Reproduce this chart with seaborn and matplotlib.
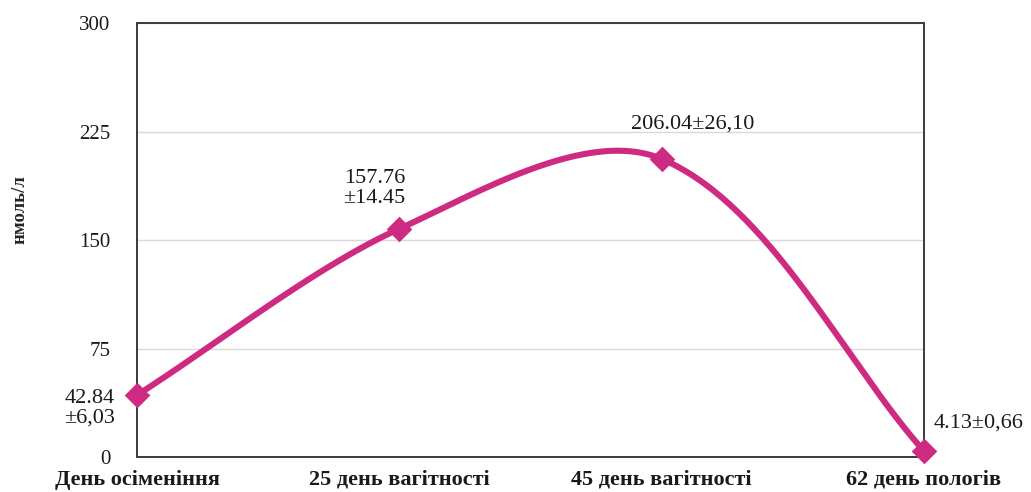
import numpy as np
import pandas as pd
import matplotlib
matplotlib.use("Agg")
import matplotlib.pyplot as plt
import seaborn as sns

# ---------------- data ----------------#
stages = ["День осіменіння", "25 день вагітності", "45 день вагітності", "62 день пологів"]
values = [42.84, 157.76, 206.04, 4.13]
labels = ["42.84\n±6,03", "157.76\n±14.45", "206.04±26,10", "4.13±0,66"]
yticks = [0, 75, 150, 225, 300]

color = "#CF2A82"

def smooth(x, y, sx=262., sy=434./300, k=0.3, n=60):
	# excel-like smoothed line: bezier controls along the neighbour chord,
	# scaled by each segment's own length (in screen units)
	P = np.c_[np.asarray(x, float)*sx, np.asarray(y, float)*sy]
	m = len(P)
	tang = []
	for i in range(m):
		a = P[max(i-1, 0)]; b = P[min(i+1, m-1)]
		d = b - a
		tang.append(d/np.hypot(*d))
	t = np.linspace(0, 1, n)[:, None]
	pts = []
	for i in range(m-1):
		L = np.hypot(*(P[i+1]-P[i]))
		c1 = P[i] + tang[i]*L*k
		c2 = P[i+1] - tang[i+1]*L*k
		pts.append((1-t)**3*P[i] + 3*(1-t)**2*t*c1 + 3*(1-t)*t**2*c2 + t**3*P[i+1])
	pts = np.vstack(pts)
	return pts[:, 0]/sx, pts[:, 1]/sy

idx = np.arange(len(stages))
cx, cy = smooth(idx, values)
df_curve = pd.DataFrame({"x": cx, "y": cy})
df_pts = pd.DataFrame({"x": idx, "y": values})

# ---------------- plot ----------------#
sns.set_theme(style="whitegrid")
plt.rcParams['font.family'] = ['Liberation Serif', 'DejaVu Serif']

fig = plt.figure(figsize=(10.31, 4.92), dpi=100)
ax = fig.add_axes([0.1329, 0.0711, 0.7633, 0.8821])

sns.lineplot(data=df_curve, x="x", y="y", ax=ax, color=color, linewidth=4.4,
	sort=False, estimator=None, clip_on=False)
sns.scatterplot(data=df_pts, x="x", y="y", ax=ax, color=color, marker="D", s=170,
	edgecolor=color, linewidth=0, clip_on=False, zorder=5)

ax.set_xlim(0, 3)
ax.set_ylim(0, 300)
ax.set_yticks(yticks)
ax.set_xticks(idx)
ax.set_xticklabels(stages, fontsize=16, fontweight='bold', color="#1a1a1a")
ax.tick_params(axis='y', labelsize=15, pad=13, labelcolor="#1a1a1a")
ax.tick_params(axis='x', pad=3)
ax.grid(axis='x', visible=False)
ax.grid(axis='y', color="#d9d9d9", linewidth=1)
for s in ax.spines.values():
	s.set_color("#3a3a3a")
	s.set_linewidth(1.4)
ax.set_xlabel("")
ax.set_ylabel("нмоль/л", fontsize=13.5, fontweight='bold')
ax.yaxis.set_label_coords(-0.138, 0.571)

# value labels (offsets in pixels from each marker)
offsets = [(-22, -13, 'right'), (-25, 40, 'center'), (31, 35, 'center'), (10, 28, 'left')]
for i, (dx, dy, ha) in enumerate(offsets):
	ax.annotate(labels[i], (idx[i], values[i]), xytext=(dx, dy), textcoords='offset pixels',
		ha=ha, va='center', multialignment='right', fontsize=16, color="#1a1a1a",
		linespacing=1.05)

plt.savefig('out.png', dpi=100)
